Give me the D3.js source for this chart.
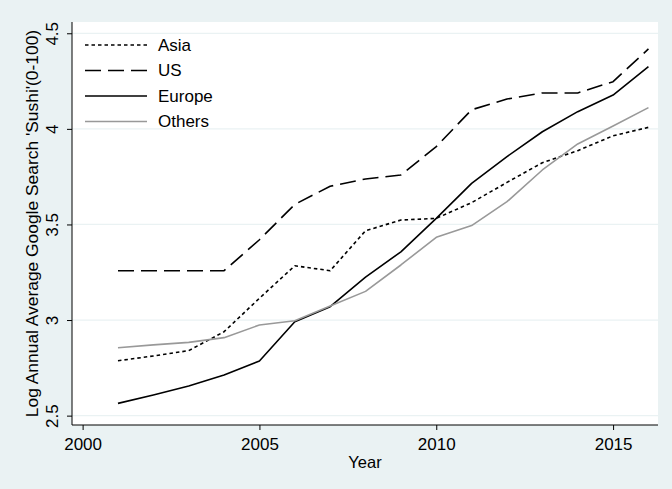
<!DOCTYPE html>
<html>
<head>
<meta charset="utf-8">
<script src="https://cdn.jsdelivr.net/npm/d3@7"></script>
<style>
  html, body { margin: 0; padding: 0; background: #eaf2f3; }
  svg { display: block; font-family: Arial, "Liberation Sans", sans-serif; }
</style>
</head>
<body>
<svg id="chart" width="672" height="489"></svg>
<script>
// Log annual average Google search index for "Sushi", by region
const years  = [2001, 2002, 2003, 2004, 2005, 2006, 2007, 2008, 2009, 2010, 2011, 2012, 2013, 2014, 2015, 2016];
const asia   = [2.787, 2.812, 2.840, 2.939, 3.114, 3.284, 3.258, 3.467, 3.523, 3.532, 3.614, 3.720, 3.823, 3.886, 3.964, 4.008];
const us     = [3.258, 3.258, 3.258, 3.258, 3.420, 3.605, 3.700, 3.738, 3.759, 3.907, 4.100, 4.156, 4.188, 4.188, 4.247, 4.418];
const europe = [2.564, 2.608, 2.655, 2.712, 2.786, 2.991, 3.070, 3.224, 3.357, 3.532, 3.715, 3.855, 3.985, 4.090, 4.177, 4.325];
const others = [2.855, 2.870, 2.883, 2.908, 2.974, 2.996, 3.073, 3.150, 3.288, 3.433, 3.494, 3.619, 3.785, 3.921, 4.015, 4.111];

const seriesNames = ["Asia", "US", "Europe", "Others"];
const xTicks = [2000, 2005, 2010, 2015];
const yTicks = [2.5, 3, 3.5, 4, 4.5];

const series = [
  { name: seriesNames[0], values: asia,   color: "#000", dash: "3.5,3",  width: 1.6 },
  { name: seriesNames[1], values: us,     color: "#000", dash: "16,7",   width: 1.6 },
  { name: seriesNames[2], values: europe, color: "#000", dash: null,     width: 1.6 },
  { name: seriesNames[3], values: others, color: "#999", dash: null,     width: 1.6 }
];

const svg = d3.select("#chart");
const plot = { left: 72, right: 658, top: 22, bottom: 425 };

// Background
svg.append("rect").attr("width", 672).attr("height", 489).attr("fill", "#eaf2f3");
svg.append("rect")
  .attr("x", plot.left).attr("y", plot.top)
  .attr("width", plot.right - plot.left).attr("height", plot.bottom - plot.top)
  .attr("fill", "#fff");

const x = d3.scaleLinear().domain([1999.7, 2016.27]).range([plot.left, plot.right]);
const y = d3.scaleLinear().domain([2.451, 4.559]).range([plot.bottom, plot.top]);

// Horizontal gridlines
svg.append("g").selectAll("line").data(yTicks).join("line")
  .attr("x1", plot.left).attr("x2", plot.right)
  .attr("y1", d => y(d)).attr("y2", d => y(d))
  .attr("stroke", "#eaf2f3").attr("stroke-width", 1.2);

// Y axis with vertical tick labels
const yAxis = svg.append("g").attr("transform", `translate(${plot.left},0)`)
  .call(d3.axisLeft(y).tickValues(yTicks).tickFormat(d3.format("")).tickSize(5).tickSizeOuter(0));
yAxis.select(".domain").attr("stroke", "#000").attr("stroke-width", 1);
yAxis.selectAll(".tick line").attr("stroke", "#000");
yAxis.selectAll(".tick text")
  .attr("font-size", 17).attr("fill", "#000")
  .attr("transform", "rotate(-90)")
  .attr("x", 0).attr("y", -14)
  .attr("dy", 0)
  .attr("text-anchor", "middle");
yAxis.select(".domain").attr("d", `M0,${plot.bottom}V${plot.top}`);

// X axis
const xAxis = svg.append("g").attr("transform", `translate(0,${plot.bottom})`)
  .call(d3.axisBottom(x).tickValues(xTicks).tickFormat(d3.format("d")).tickSize(5).tickSizeOuter(0));
xAxis.select(".domain").attr("stroke", "#000").attr("d", `M${plot.left},0H${plot.right}`);
xAxis.selectAll(".tick line").attr("stroke", "#000");
xAxis.selectAll(".tick text").attr("font-size", 17).attr("fill", "#000").attr("y", 10).attr("dy", "0.9em");

// Axis titles
svg.append("text")
  .attr("x", (plot.left + plot.right) / 2).attr("y", 468)
  .attr("text-anchor", "middle").attr("font-size", 16.5).attr("fill", "#000")
  .text("Year");
svg.append("text")
  .attr("transform", `translate(38,${(plot.top + plot.bottom) / 2}) rotate(-90)`)
  .attr("text-anchor", "middle").attr("font-size", 17.4).attr("fill", "#000")
  .text("Log Annual Average Google Search 'Sushi'(0-100)");

// Lines
const line = d3.line().x((d, i) => x(years[i])).y(d => y(d));
const linesG = svg.append("g");
series.forEach(s => {
  linesG.append("path")
    .datum(s.values)
    .attr("d", line)
    .attr("fill", "none")
    .attr("stroke", s.color)
    .attr("stroke-width", s.width)
    .attr("stroke-dasharray", s.dash)
    .attr("stroke-linejoin", "round");
});

// Legend
const legend = svg.append("g");
series.forEach((s, i) => {
  const ly = 45 + i * 25.5;
  legend.append("line")
    .attr("x1", 85).attr("x2", 147).attr("y1", ly).attr("y2", ly)
    .attr("stroke", s.color).attr("stroke-width", s.width)
    .attr("stroke-dasharray", s.dash);
  legend.append("text")
    .attr("x", 158).attr("y", ly).attr("dy", "0.35em")
    .attr("font-size", 17).attr("fill", "#000")
    .text(s.name);
});
</script>
</body>
</html>
